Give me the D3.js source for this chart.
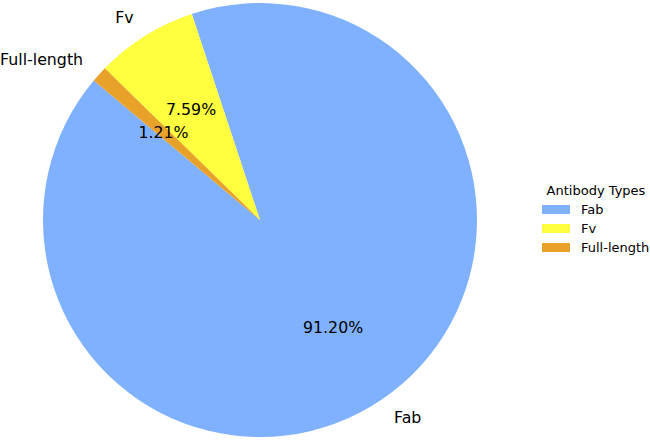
<!DOCTYPE html>
<html><head><meta charset="utf-8">
<script src="https://cdn.jsdelivr.net/npm/d3@7"></script>
<style>body{margin:0;background:#fff}svg{font-family:"DejaVu Sans",sans-serif}</style>
</head><body>
<script>
const categories = ["Fab", "Fv", "Full-length"];
const values = [91.20, 7.59, 1.21];
const colors = ["#80B1FF", "#FFFF40", "#E8A22A"];
const legendTitle = "Antibody Types";

const W = 650, H = 440, cx = 260, cy = 220, R = 217;
const svg = d3.select("body").append("svg").attr("width", W).attr("height", H);
const g = svg.append("g").attr("transform", `translate(${cx},${cy})`);

const startDeg = 140; // matplotlib start angle (counterclockwise from 3 o'clock)
const toRad = d => d * Math.PI / 180;
const pie = d3.pie().sort(null).value(d => d.v)
  .startAngle(toRad(90 - startDeg)).endAngle(toRad(90 - startDeg - 360));
const data = categories.map((c, i) => ({c, v: values[i], col: colors[i]}));
const arcs = pie(data);
const arc = d3.arc().innerRadius(0).outerRadius(R);

g.selectAll("path").data(arcs).join("path")
  .attr("d", arc).attr("fill", d => d.data.col);

const total = d3.sum(values);
const fs = 15.8;
arcs.forEach(a => {
  const mid = (a.startAngle + a.endAngle) / 2;
  const sx = Math.sin(mid), sy = -Math.cos(mid);
  g.append("text").attr("x", sx * R * 1.1).attr("y", sy * R * 1.1)
    .attr("text-anchor", sx > 0 ? "start" : "end").attr("dominant-baseline", "central")
    .attr("font-size", fs).attr("fill", "#000").text(a.data.c);
  g.append("text").attr("x", sx * R * 0.6).attr("y", sy * R * 0.6)
    .attr("text-anchor", "middle").attr("dominant-baseline", "central")
    .attr("font-size", fs).attr("fill", "#000")
    .text((a.data.v / total * 100).toFixed(2) + "%");
});

// legend
const lfs = 13;
const lg = svg.append("g").attr("transform", "translate(542,190)");
lg.append("text").attr("x", 54).attr("y", 0).attr("text-anchor", "middle")
  .attr("dominant-baseline", "central").attr("font-size", lfs).text(legendTitle);
data.forEach((d, i) => {
  const y = 19 + i * 19;
  lg.append("rect").attr("x", 0).attr("y", y - 4).attr("width", 28).attr("height", 9).attr("fill", d.col);
  lg.append("text").attr("x", 39).attr("y", y).attr("dominant-baseline", "central")
    .attr("font-size", lfs).text(d.c);
});
</script>
</body></html>
